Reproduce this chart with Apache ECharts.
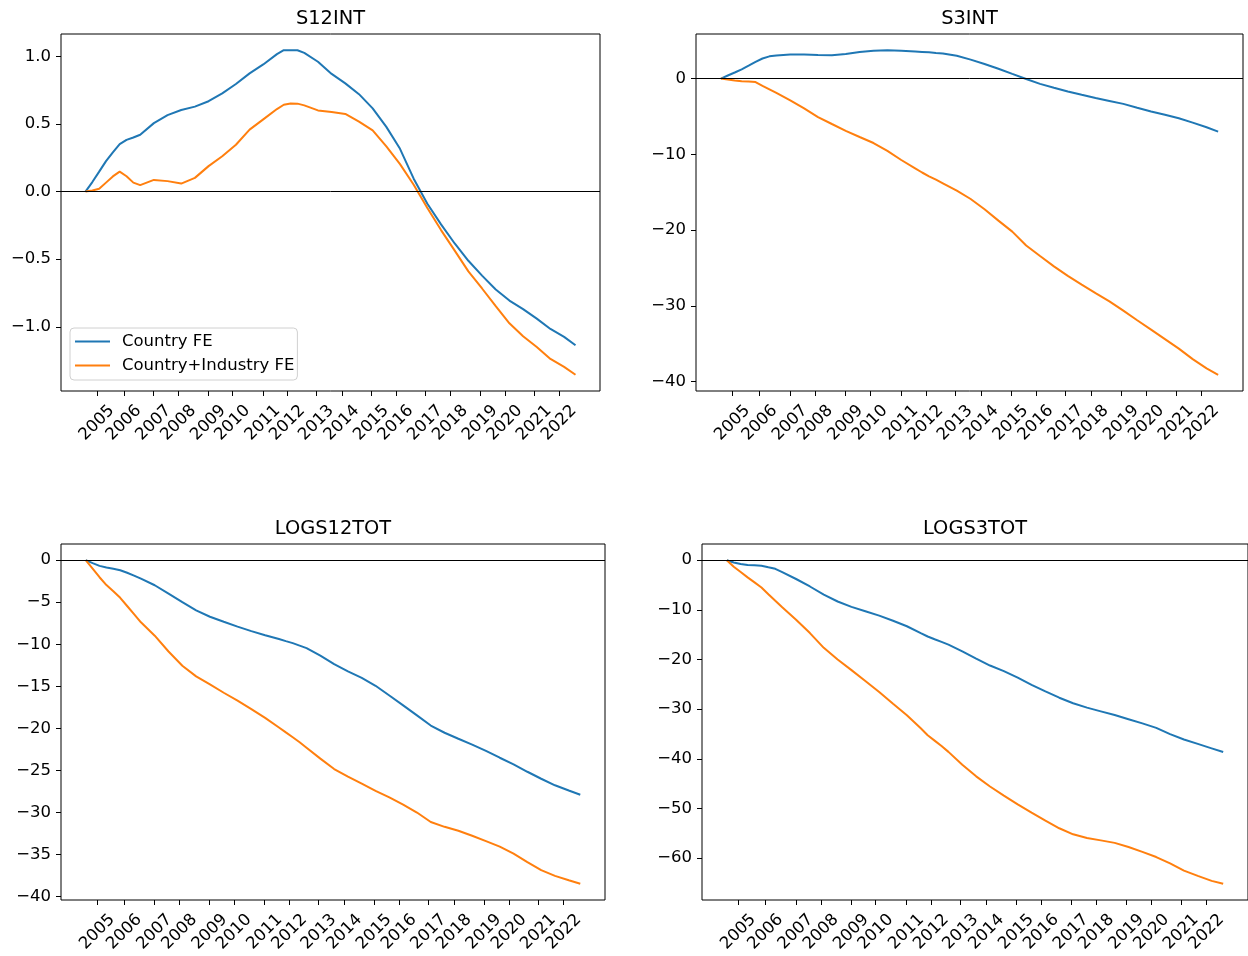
<!DOCTYPE html>
<html>
<head>
<meta charset="utf-8">
<title>FE paths</title>
<script src="https://cdn.jsdelivr.net/npm/echarts@6/dist/echarts.min.js"></script>
<style>
html, body { margin: 0; padding: 0; background: #fff; }
#chart { width: 1248px; height: 956px; }
</style>
</head>
<body>
<div id="chart"></div>
<script>
// months since the first observation (mid 2004)
var months = [0,3,6,9,12,15,18,21,24,30,36,42,48,54,60,66,72,78,84,87,90,93,
  96,102,108,114,120,126,132,138,144,150,156,162,168,174,180,186,192,198,204,210,215];

// where the year ticks sit on the same scale
var tickPos = [5,16.8,29.9,40.8,53.9,64.5,77.8,88.6,101.3,112.5,125.4,136.2,149.1,160.1,173.1,184,196.8,207.8];
var tickYears = ['2005','2006','2007','2008','2009','2010','2011','2012','2013',
  '2014','2015','2016','2017','2018','2019','2020','2021','2022'];

var s12Country = [0,0.07,0.147,0.225,0.29,0.35,0.382,0.40,0.42,
  0.506,0.565,0.603,0.628,0.668,0.726,0.795,0.874,0.94,1.016,
  1.045,1.045,1.045,
  1.025,0.96,0.87,0.80,0.72,0.615,0.478,0.316,0.095,-0.09,-0.243,-0.384,-0.512,-0.622,-0.724,-0.806,-0.87,-0.94,-1.016,-1.075,
  -1.137];
var s12Industry = [0,0.008,0.02,0.066,0.112,0.147,0.113,0.066,0.047,
  0.086,0.077,0.059,0.101,0.188,0.261,0.346,0.458,0.534,0.61,
  0.642,0.651,0.65,
  0.637,0.60,0.588,0.574,0.517,0.453,0.334,0.203,0.05,-0.122,-0.285,-0.437,-0.59,-0.717,-0.848,-0.974,-1.07,-1.15,-1.238,-1.297,
  -1.355];

var s3Country = [0,0.4,0.8,1.22,1.7,2.2,2.65,2.93,3.05,
  3.17,3.17,3.1,3.07,3.25,3.5,3.68,3.74,3.68,3.58,
  3.52,3.46,3.38,
  3.32,3.0,2.5,1.93,1.3,0.62,-0.05,-0.7,-1.21,-1.7,-2.14,-2.57,-2.95,-3.34,-3.85,-4.34,-4.78,-5.24,-5.82,-6.43,
  -7.0];
var s3Industry = [0,-0.13,-0.25,-0.34,-0.4,-0.47,-0.96,-1.43,-1.9,
  -2.88,-3.94,-5.08,-6.0,-6.9,-7.71,-8.51,-9.55,-10.75,-11.85,
  -12.4,-12.9,-13.35,
  -13.83,-14.8,-15.9,-17.25,-18.75,-20.2,-22.03,-23.43,-24.79,-26.05,-27.2,-28.32,-29.42,-30.64,-31.9,-33.14,-34.39,-35.65,-37.04,-38.26,
  -39.1];

var logs12Country = [0,-0.35,-0.68,-0.88,-1.03,-1.2,-1.5,-1.83,-2.2,
  -2.98,-3.98,-5.0,-5.98,-6.73,-7.33,-7.9,-8.44,-8.93,-9.38,
  -9.63,-9.87,-10.16,
  -10.46,-11.36,-12.37,-13.23,-14.0,-14.94,-16.1,-17.27,-18.46,-19.67,-20.53,-21.24,-21.94,-22.69,-23.5,-24.29,-25.17,-26.0,-26.78,-27.4,
  -27.9];
var logs12Industry = [0,-1.01,-2.03,-2.96,-3.69,-4.48,-5.45,-6.42,-7.39,
  -8.98,-10.86,-12.55,-13.82,-14.78,-15.77,-16.71,-17.72,-18.76,-19.9,
  -20.49,-21.07,-21.66,
  -22.31,-23.61,-24.85,-25.76,-26.59,-27.44,-28.22,-29.08,-30.02,-31.15,-31.72,-32.19,-32.78,-33.42,-34.07,-34.91,-35.91,-36.88,-37.56,-38.08,
  -38.5];

var logs3Country = [0,-0.46,-0.75,-0.99,-1.04,-1.11,-1.43,-1.74,-2.4,
  -3.79,-5.3,-6.94,-8.32,-9.4,-10.28,-11.17,-12.2,-13.31,-14.69,
  -15.37,-15.92,-16.46,
  -17.0,-18.35,-19.82,-21.22,-22.34,-23.67,-25.1,-26.44,-27.7,-28.81,-29.7,-30.45,-31.2,-32.03,-32.87,-33.78,-35.05,-36.12,-37.01,-37.9,
  -38.64];
var logs3Industry = [0,-1.31,-2.39,-3.47,-4.47,-5.51,-6.85,-8.18,-9.49,
  -12.0,-14.68,-17.66,-20.0,-22.14,-24.33,-26.57,-28.93,-31.24,-33.87,
  -35.26,-36.34,-37.43,
  -38.61,-41.22,-43.54,-45.58,-47.42,-49.19,-50.86,-52.48,-54.0,-55.22,-55.95,-56.44,-56.94,-57.77,-58.75,-59.8,-61.08,-62.53,-63.58,-64.6,
  -65.19];

var s12Ticks = [-1, -0.5, 0, 0.5, 1];
var s3Ticks = [-40, -30, -20, -10, 0];
var logs12Ticks = [-40, -35, -30, -25, -20, -15, -10, -5, 0];
var logs3Ticks = [-60, -50, -40, -30, -20, -10, 0];

var FONT = 'DejaVu Sans';
var BLUE = '#1f77b4', ORANGE = '#ff7f0e';

var panels = [
  {title: 'S12INT', a: s12Country, b: s12Industry, ticks: s12Ticks, dec: 1, left: 61, top: 34, width: 539, height: 357},
  {title: 'S3INT', a: s3Country, b: s3Industry, ticks: s3Ticks, dec: 0, left: 696, top: 34, width: 547, height: 357},
  {title: 'LOGS12TOT', a: logs12Country, b: logs12Industry, ticks: logs12Ticks, dec: 0, left: 61, top: 544, width: 544, height: 356},
  {title: 'LOGS3TOT', a: logs3Country, b: logs3Industry, ticks: logs3Ticks, dec: 0, left: 702, top: 544, width: 546, height: 356}
];

function pairs(arr) {
  return months.map(function (m, i) { return [m, arr[i]]; });
}

function minus(s) {
  return s.replace('-', '\u2212');
}

var xSpan = months[months.length - 1] - months[0];
var xMin = months[0] - xSpan * 0.05;
var xMax = months[months.length - 1] + xSpan * 0.05;

var grids = [], xAxes = [], yAxes = [], series = [], texts = [];

panels.forEach(function (p, k) {
  grids.push({left: p.left, top: p.top, width: p.width, height: p.height,
    show: true, borderColor: '#000', borderWidth: 1, backgroundColor: 'transparent'});

  var all = p.a.concat(p.b);
  var lo = Math.min.apply(null, all), hi = Math.max.apply(null, all);
  var pad = (hi - lo) * 0.05;

  xAxes.push({
    type: 'value', gridIndex: k, min: xMin, max: xMax, position: 'bottom',
    axisLine: {show: false, onZero: false},
    splitLine: {show: false},
    axisTick: {show: true, customValues: tickPos, length: 5, lineStyle: {color: '#000', width: 1}},
    axisLabel: {
      customValues: tickPos, rotate: 45, align: 'center', verticalAlign: 'middle', margin: 32,
      fontSize: 16.5, fontFamily: FONT, color: '#000',
      formatter: function (v) {
        var best = 0;
        for (var i = 1; i < tickPos.length; i++) {
          if (Math.abs(tickPos[i] - v) < Math.abs(tickPos[best] - v)) best = i;
        }
        return tickYears[best];
      }
    }
  });

  yAxes.push({
    type: 'value', gridIndex: k, min: lo - pad, max: hi + pad, position: 'left',
    axisLine: {show: false, onZero: false},
    splitLine: {show: false},
    axisTick: {show: true, customValues: p.ticks, length: 5, lineStyle: {color: '#000', width: 1}},
    axisLabel: {
      customValues: p.ticks, margin: 10, fontSize: 16.5, fontFamily: FONT, color: '#000',
      formatter: function (v) { return minus(p.dec ? v.toFixed(1) : String(Math.round(v))); }
    }
  });

  series.push({
    name: 'Country FE', type: 'line', xAxisIndex: k, yAxisIndex: k,
    data: pairs(p.a), symbol: 'none', showSymbol: false, animation: false,
    lineStyle: {color: BLUE, width: 2}, itemStyle: {color: BLUE},
    markLine: {
      silent: true, symbol: ['none', 'none'], animation: false,
      label: {show: false},
      lineStyle: {color: '#000', width: 1, type: 'solid'},
      data: [{yAxis: 0}]
    }
  });
  series.push({
    name: 'Country+Industry FE', type: 'line', xAxisIndex: k, yAxisIndex: k,
    data: pairs(p.b), symbol: 'none', showSymbol: false, animation: false,
    lineStyle: {color: ORANGE, width: 2}, itemStyle: {color: ORANGE}
  });

  texts.push({
    type: 'text', x: p.left + p.width / 2, y: p.top - 15,
    style: {text: p.title, fontSize: 19.4, fontFamily: FONT, fill: '#000', align: 'center', verticalAlign: 'middle'}
  });
});

var chart = echarts.init(document.getElementById('chart'));
chart.setOption({
  animation: false,
  backgroundColor: '#fff',
  grid: grids,
  xAxis: xAxes,
  yAxis: yAxes,
  series: series,
  graphic: texts,
  legend: {
    left: 70, top: 328, orient: 'vertical',
    data: ['Country FE', 'Country+Industry FE'],
    icon: 'rect',
    itemWidth: 35, itemHeight: 2, itemGap: 5,
    padding: [4, 3, 5, 5],
    borderColor: '#d0d0d0', borderWidth: 1, borderRadius: 4,
    backgroundColor: 'rgba(255,255,255,0.8)',
    selectedMode: false,
    textStyle: {fontSize: 16.5, lineHeight: 19, fontFamily: FONT, color: '#000', padding: [0, 0, 0, 7]}
  }
});
</script>
</body>
</html>
